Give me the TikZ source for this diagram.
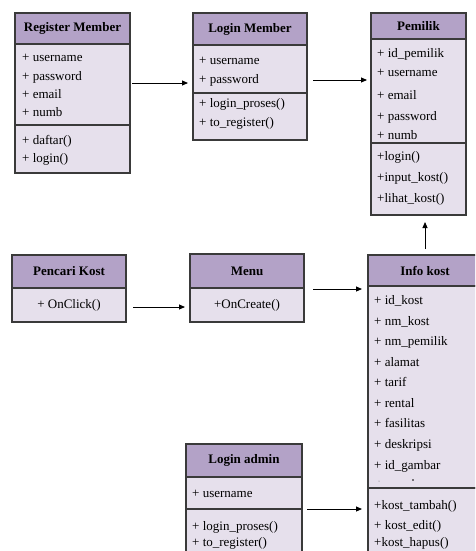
\documentclass[tikz,border=0pt]{standalone}
\usepackage{fontspec}
\setmainfont{Liberation Serif}
\usetikzlibrary{arrows.meta}
\definecolor{hdr}{HTML}{B3A2C7}
\definecolor{bdy}{HTML}{E6E0EC}
\definecolor{edgec}{HTML}{3A3A3A}
\begin{document}
\begin{tikzpicture}[x=1pt,y=-1pt,
  part/.style={draw=edgec, line width=1.1pt, anchor=north west, inner sep=0pt, outer sep=0pt},
  hdrbox/.style={part, fill=hdr, font=\bfseries\fontsize{13}{15}\selectfont},
  bodybox/.style={part, fill=bdy, font=\fontsize{13}{15}\selectfont},
  txt/.style={anchor=base west, inner sep=0pt, font=\fontsize{13}{15}\selectfont},
  arr/.style={-{Triangle[length=6pt,width=5pt]}, line width=0.9pt, black}]
\useasboundingbox (0,0) rectangle (475,551);
\clip (0,0) rectangle (475,551);
% Register Member
\node[hdrbox, minimum width=115pt, minimum height=31pt] (regH) at (15,13) {Register Member};
\node[bodybox, minimum width=115pt, minimum height=81pt] (regA) at (15,44) {};
\node[bodybox, minimum width=115pt, minimum height=48pt] (regM) at (15,125) {};
\node[txt] (r1) at (22,62) {+ username};
\node[txt] (r2) at (22,81) {+ password};
\node[txt] (r3) at (22,98) {+ email};
\node[txt] (r4) at (22,116) {+ numb};
\node[txt] (r5) at (22,144) {+ daftar()};
\node[txt] (r6) at (22,162) {+ login()};
% Login Member
\node[hdrbox, minimum width=114pt, minimum height=32pt] (lmH) at (193,13) {Login Member};
\node[bodybox, minimum width=114pt, minimum height=48pt] (lmA) at (193,45) {};
\node[bodybox, minimum width=114pt, minimum height=47pt] (lmM) at (193,93) {};
\node[txt] (l1) at (199,64) {+ username};
\node[txt] (l2) at (199,83) {+ password};
\node[txt] (l3) at (199,107) {+ login\_proses()};
\node[txt] (l4) at (199,126) {+ to\_register()};
% Pemilik
\node[hdrbox, minimum width=95pt, minimum height=26pt] (pmH) at (371,13) {Pemilik};
\node[bodybox, minimum width=95pt, minimum height=104pt] (pmA) at (371,39) {};
\node[bodybox, minimum width=95pt, minimum height=72pt] (pmM) at (371,143) {};
\node[txt] (p1) at (377,57) {+ id\_pemilik};
\node[txt] (p2) at (377,77) {+ username};
\node[txt] (p3) at (377,99) {+ email};
\node[txt] (p4) at (377,120) {+ password};
\node[txt] (p5) at (377,139) {+ numb};
\node[txt] (p6) at (377,160) {+login()};
\node[txt] (p7) at (377,181) {+input\_kost()};
\node[txt] (p8) at (377,202) {+lihat\_kost()};
% Pencari Kost
\node[hdrbox, minimum width=114pt, minimum height=33pt] (pcH) at (12,255) {Pencari Kost};
\node[bodybox, minimum width=114pt, minimum height=34pt] (pcB) at (12,288) {+ OnClick()};
% Menu
\node[hdrbox, minimum width=114pt, minimum height=34pt] (mnH) at (190,254) {Menu};
\node[bodybox, minimum width=114pt, minimum height=34pt] (mnB) at (190,288) {+OnCreate()};
\draw[edgec, line width=2.2pt] (mnB.north west) -- (mnB.north east);
% Info kost
\node[hdrbox, minimum width=114pt, minimum height=31pt] (ikH) at (368,255) {Info kost};
\node[bodybox, minimum width=114pt, minimum height=202pt] (ikA) at (368,286) {};
\node[bodybox, minimum width=114pt, minimum height=80pt] (ikM) at (368,488) {};
\node[txt] (i1) at (374,304) {+ id\_kost};
\node[txt] (i2) at (374,325) {+ nm\_kost};
\node[txt] (i3) at (374,345) {+ nm\_pemilik};
\node[txt] (i4) at (374,366) {+ alamat};
\node[txt] (i5) at (374,386) {+ tarif};
\node[txt] (i6) at (374,407) {+ rental};
\node[txt] (i7) at (374,427) {+ fasilitas};
\node[txt] (i8) at (374,448) {+ deskripsi};
\node[txt] (i9) at (374,469) {+ id\_gambar};
\fill[black!60] (379,481) circle (0.5pt);
\fill[black] (413,480) circle (0.9pt);
\node[txt] (i10) at (374,509) {+kost\_tambah()};
\node[txt] (i11) at (374,529) {+ kost\_edit()};
\node[txt] (i12) at (374,546) {+kost\_hapus()};
% Login admin
\node[hdrbox, minimum width=116pt, minimum height=33pt] (laH) at (186,444) {Login admin};
\node[bodybox, minimum width=116pt, minimum height=32pt] (laA) at (186,477) {};
\node[bodybox, minimum width=116pt, minimum height=60pt] (laM) at (186,509) {};
\node[txt] (a1) at (192,497) {+ username};
\node[txt] (a2) at (192,530) {+ login\_proses()};
\node[txt] (a3) at (192,546) {+ to\_register()};
% connectors
\draw[arr, shorten <=2pt, shorten >=5pt] (regA.east |- 0,83) -- (lmA.west |- 0,83);
\draw[arr, shorten <=6pt, shorten >=4pt] (lmA.east |- 0,80) -- (pmA.west |- 0,80);
\draw[arr, shorten <=7pt, shorten >=5pt] (pcB.west -| pcH.east) ++(0,2) coordinate (c1) -- (c1 -| mnH.west);
\draw[arr, shorten <=9pt, shorten >=6pt] (mnB.east |- 0,289) -- (ikA.west |- 0,289);
\draw[arr, shorten <=5pt, shorten >=6pt] (laM.east |- 0,509) -- (ikM.west |- 0,509);
\draw[arr, shorten <=6pt, shorten >=7pt] (ikH.north -| 425,0) -- (pmM.south -| 425,0);
\end{tikzpicture}
\end{document}
